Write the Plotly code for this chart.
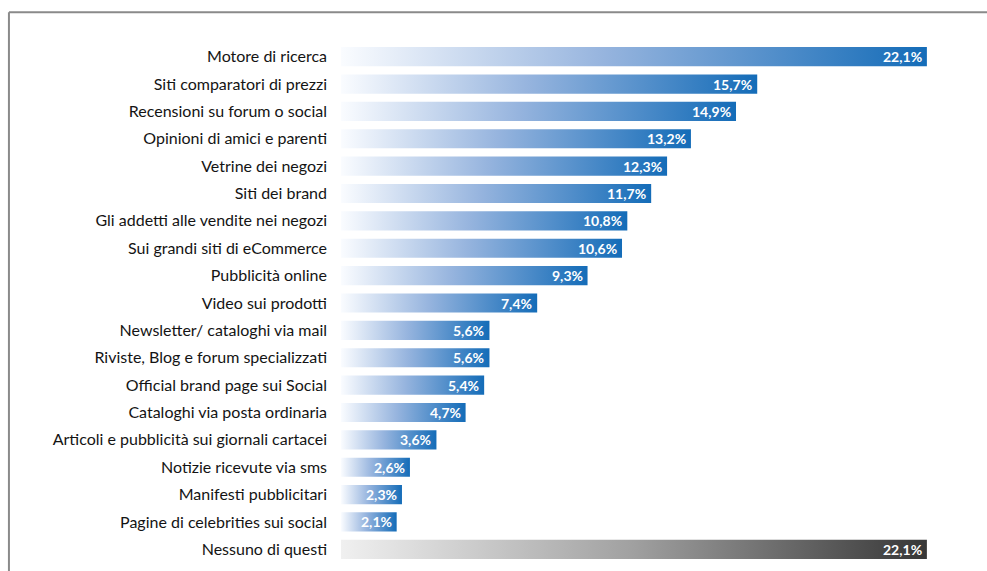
import plotly.graph_objects as go

categories = [
    "Motore di ricerca",
    "Siti comparatori di prezzi",
    "Recensioni su forum o social",
    "Opinioni di amici e parenti",
    "Vetrine dei negozi",
    "Siti dei brand",
    "Gli addetti alle vendite nei negozi",
    "Sui grandi siti di eCommerce",
    "Pubblicità online",
    "Video sui prodotti",
    "Newsletter/ cataloghi via mail",
    "Riviste, Blog e forum specializzati",
    "Official brand page sui Social",
    "Cataloghi via posta ordinaria",
    "Articoli e pubblicità sui giornali cartacei",
    "Notizie ricevute via sms",
    "Manifesti pubblicitari",
    "Pagine di celebrities sui social",
    "Nessuno di questi",
]
values = [22.1, 15.7, 14.9, 13.2, 12.3, 11.7, 10.8, 10.6, 9.3, 7.4,
          5.6, 5.6, 5.4, 4.7, 3.6, 2.6, 2.3, 2.1, 22.1]
value_labels = ["22,1%", "15,7%", "14,9%", "13,2%", "12,3%", "11,7%", "10,8%",
                "10,6%", "9,3%", "7,4%", "5,6%", "5,6%", "5,4%", "4,7%",
                "3,6%", "2,6%", "2,3%", "2,1%", "22,1%"]

blue_scale = [[0, "rgb(250,252,255)"], [0.45, "rgb(150,180,222)"], [1, "rgb(20,108,184)"]]
gray_scale = [[0, "rgb(240,240,240)"], [0.5, "rgb(160,160,160)"], [1, "rgb(55,55,55)"]]

half = 0.35
fig = go.Figure()
for i, (cat, v) in enumerate(zip(categories, values)):
    scale = gray_scale if cat == "Nessuno di questi" else blue_scale
    fig.add_trace(go.Scatter(
        x=[0, v, v, 0, 0],
        y=[i - half, i - half, i + half, i + half, i - half],
        mode="lines", line=dict(width=0), fill="toself",
        fillgradient=dict(type="horizontal", colorscale=scale, start=0, stop=v),
        hoverinfo="skip", showlegend=False,
    ))

for i, (v, lab) in enumerate(zip(values, value_labels)):
    fig.add_annotation(
        x=v, y=i, text=lab, showarrow=False,
        xanchor="right", yanchor="middle", xshift=-3,
        font=dict(family="Lato", size=14, color="white", weight="bold"),
    )

fig.update_xaxes(range=[0, 23.5], visible=False, fixedrange=True)
fig.update_yaxes(
    range=[len(values) - 0.5, -0.5],
    tickmode="array", tickvals=list(range(len(categories))), ticktext=categories,
    showgrid=False, zeroline=False, showline=False, ticks="",
    ticklabelstandoff=13,
    tickfont=dict(family="Lato", size=16, color="#141414"),
)

fig.add_shape(type="line", xref="paper", yref="paper",
              x0=-0.533, x1=1.2, y0=1.059, y1=1.059,
              line=dict(color="#8a8a8a", width=2))
fig.add_shape(type="line", xref="paper", yref="paper",
              x0=-0.533, x1=-0.533, y0=1.059, y1=-0.2,
              line=dict(color="#8a8a8a", width=2))

fig.update_layout(
    width=987, height=571,
    margin=dict(l=341, r=23, t=43, b=8),
    plot_bgcolor="white", paper_bgcolor="white",
)

fig.write_html("out.html")
